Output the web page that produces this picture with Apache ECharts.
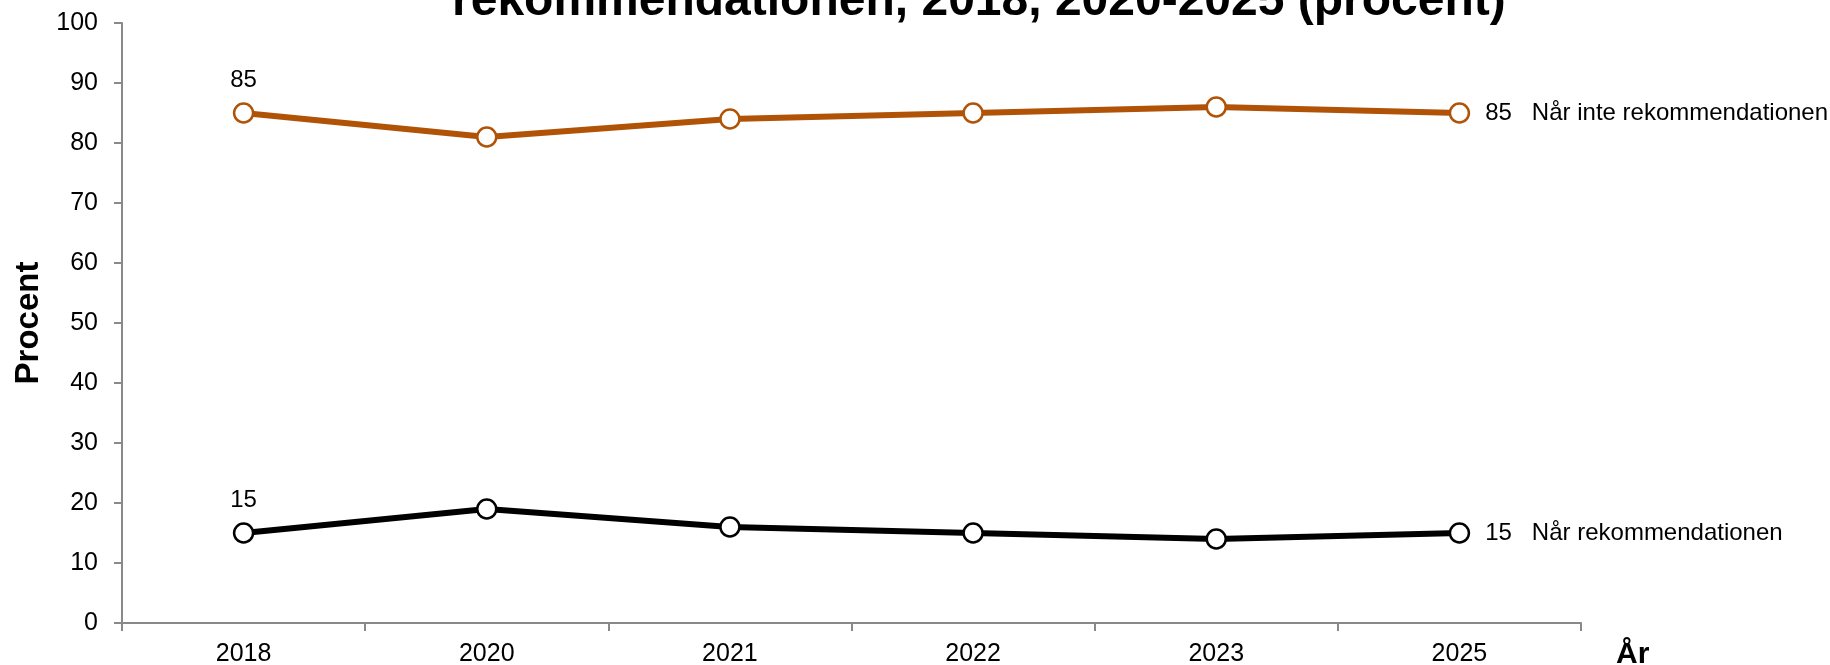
<!DOCTYPE html>
<html>
<head>
<meta charset="utf-8">
<script src="https://cdn.jsdelivr.net/npm/echarts@6/dist/echarts.min.js"></script>
<style>
    html, body {margin: 0; padding: 0; background: #fff;}
    #main {width: 1830px; height: 665px;}
</style>
</head>
<body>
<div id="main"></div>
<script>
// 年份与数据
const years = ['2018', '2020', '2021', '2022', '2023', '2025'];
const notReaching = [85, 81, 84, 85, 86, 85];
const reaching = [15, 19, 16, 15, 14, 15];
const yTicks = {min: 0, max: 100, interval: 10};

const names = {
    notReaching: 'Når inte rekommendationen',
    reaching: 'Når rekommendationen'
};
const colors = {
    notReaching: '#B15307',
    reaching: '#000000'
};

const font = '"Liberation Sans", Arial, sans-serif';

// first point gets its value above, last point gets value + series name to the right
function buildData(values, name) {
    return values.map(function (v, i) {
        let item = {value: v};
        if (i === 0) {
            item.label = {show: true, position: 'top', distance: 10, formatter: '{c}'};
        } else if (i === values.length - 1) {
            item.label = {
                show: true,
                position: 'right',
                distance: 15,
                formatter: '{v|' + v + '}{n|' + name + '}',
                rich: {
                    v: {fontSize: 24, fontFamily: font, color: '#000'},
                    n: {fontSize: 24, fontFamily: font, color: '#000', padding: [0, 0, 0, 20]}
                }
            };
        }
        return item;
    });
}

function lineSeries(key, values) {
    return {
        name: names[key],
        type: 'line',
        data: buildData(values, names[key]),
        symbol: 'circle',
        symbolSize: 19,
        lineStyle: {color: colors[key], width: 6},
        itemStyle: {color: '#fff', borderColor: colors[key], borderWidth: 2.5},
        label: {fontSize: 24, fontFamily: font, color: '#000'},
        emphasis: {disabled: true},
        animation: false
    };
}

let myChart = echarts.init(document.getElementById('main'));
let option = {
    backgroundColor: '#fff',
    title: {
        text: 'rekommendationen, 2018, 2020-2025 (procent)',
        left: 452,
        top: -22,
        padding: 0,
        textStyle: {fontSize: 48, fontWeight: 'bold', fontFamily: font, color: '#000'}
    },
    grid: {
        left: 122,
        right: 249,
        top: 23,
        bottom: 42,
        containLabel: false,
        outerBoundsMode: 'none'
    },
    xAxis: {
        type: 'category',
        data: years,
        boundaryGap: true,
        name: 'År',
        nameLocation: 'end',
        nameGap: 35,
        nameTextStyle: {
            fontSize: 30, fontWeight: 'bold', fontFamily: font, color: '#000',
            verticalAlign: 'top', padding: [17, 0, 0, 0]
        },
        axisLine: {lineStyle: {color: '#898989', width: 2}},
        axisTick: {show: true, length: 8, inside: false, lineStyle: {color: '#898989', width: 2}},
        axisLabel: {fontSize: 25, fontFamily: font, color: '#000', margin: 19},
        splitLine: {show: false}
    },
    yAxis: {
        type: 'value',
        min: yTicks.min,
        max: yTicks.max,
        interval: yTicks.interval,
        name: 'Procent',
        nameLocation: 'middle',
        nameGap: 76,
        nameTextStyle: {fontSize: 33, fontWeight: 'bold', fontFamily: font, color: '#000'},
        axisLine: {show: true, lineStyle: {color: '#898989', width: 2}},
        axisTick: {show: true, length: 8, lineStyle: {color: '#898989', width: 2}},
        axisLabel: {fontSize: 25, fontFamily: font, color: '#000', margin: 24},
        splitLine: {show: false}
    },
    series: [
        lineSeries('notReaching', notReaching),
        lineSeries('reaching', reaching)
    ]
};
myChart.setOption(option);
</script>
</body>
</html>
